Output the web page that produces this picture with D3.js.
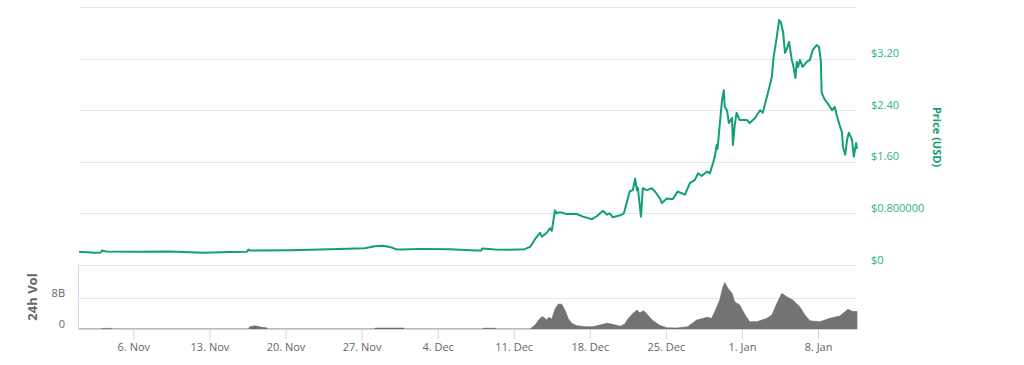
<!DOCTYPE html>
<html>
<head>
<meta charset="utf-8">
<script src="https://cdn.jsdelivr.net/npm/d3@7"></script>
<style>
html,body{margin:0;padding:0;background:#fff;}
svg{display:block;}
text{font-family:"Open Sans","DejaVu Sans",sans-serif;}
</style>
</head>
<body>
<svg id="chart" width="1024" height="365"></svg>
<script>
// ---- data ----
const priceTimes = [
"2017-11-01 00:00","2017-11-02 11:00","2017-11-03 00:00","2017-11-03 03:00","2017-11-03 12:00","2017-11-06 14:00",
"2017-11-09 09:00","2017-11-12 10:00","2017-11-14 22:00","2017-11-16 11:00","2017-11-16 14:00","2017-11-16 17:00",
"2017-11-20 10:00","2017-11-24 02:00","2017-11-27 07:00","2017-11-28 05:00","2017-11-29 00:00","2017-11-29 19:00",
"2017-11-30 04:00","2017-11-30 19:00","2017-12-02 09:00","2017-12-05 03:00","2017-12-07 12:00","2017-12-08 00:00",
"2017-12-08 02:00","2017-12-09 07:00","2017-12-10 16:00","2017-12-12 00:00","2017-12-12 12:00","2017-12-12 23:00",
"2017-12-13 10:00","2017-12-13 14:00","2017-12-14 01:00","2017-12-14 08:00","2017-12-14 12:00","2017-12-14 19:00",
"2017-12-14 23:00","2017-12-15 06:00","2017-12-15 21:00","2017-12-16 19:00","2017-12-17 09:00","2017-12-18 05:00",
"2017-12-18 16:00","2017-12-19 05:00","2017-12-19 14:00","2017-12-19 20:00","2017-12-20 03:00","2017-12-20 19:00",
"2017-12-21 03:00","2017-12-21 10:00","2017-12-21 16:00","2017-12-21 23:00","2017-12-22 04:00","2017-12-22 08:00",
"2017-12-22 10:00","2017-12-22 17:00","2017-12-22 21:00","2017-12-23 06:00","2017-12-23 17:00","2017-12-24 00:00",
"2017-12-24 11:00","2017-12-24 15:00","2017-12-25 02:00","2017-12-25 15:00","2017-12-26 02:00","2017-12-26 18:00",
"2017-12-27 05:00","2017-12-27 16:00","2017-12-27 23:00","2017-12-28 07:00","2017-12-28 19:00","2017-12-29 01:00",
"2017-12-29 08:00","2017-12-29 12:00","2017-12-29 16:00","2017-12-29 18:00","2017-12-30 04:00","2017-12-30 08:00",
"2017-12-30 10:00","2017-12-30 15:00","2017-12-30 19:00","2017-12-31 02:00","2017-12-31 04:00","2017-12-31 08:00",
"2017-12-31 12:00","2017-12-31 19:00","2018-01-01 11:00","2018-01-01 17:00","2018-01-02 05:00","2018-01-02 16:00",
"2018-01-02 22:00","2018-01-03 07:00","2018-01-03 14:00","2018-01-03 18:00","2018-01-03 22:00","2018-01-04 05:00",
"2018-01-04 10:00","2018-01-04 14:00","2018-01-04 19:00","2018-01-04 23:00","2018-01-05 03:00","2018-01-05 08:00",
"2018-01-05 14:00","2018-01-05 17:00","2018-01-05 22:00","2018-01-06 01:00","2018-01-06 04:00","2018-01-06 08:00",
"2018-01-06 14:00","2018-01-06 23:00","2018-01-07 06:00","2018-01-07 12:00","2018-01-07 21:00","2018-01-08 02:00",
"2018-01-08 06:00","2018-01-08 08:00","2018-01-08 15:00","2018-01-08 21:00","2018-01-09 07:00","2018-01-09 13:00",
"2018-01-09 20:00","2018-01-10 05:00","2018-01-10 07:00","2018-01-10 12:00","2018-01-10 16:00","2018-01-10 20:00",
"2018-01-11 03:00","2018-01-11 07:00","2018-01-11 12:00","2018-01-11 14:00"
];
const priceValues = [
0.206,0.19,0.195,0.225,0.21,0.205,
0.21,0.19,0.20,0.205,0.24,0.225,
0.23,0.245,0.26,0.29,0.30,0.27,
0.245,0.24,0.25,0.245,0.225,0.225,
0.255,0.24,0.235,0.245,0.28,0.40,
0.50,0.44,0.50,0.57,0.53,0.85,
0.80,0.82,0.79,0.79,0.75,0.71,
0.76,0.84,0.78,0.80,0.74,0.77,
0.80,0.98,1.14,1.16,1.34,1.16,
1.20,0.75,1.19,1.16,1.19,1.14,
1.03,0.96,1.03,1.02,1.14,1.09,
1.27,1.32,1.42,1.38,1.45,1.42,
1.58,1.68,1.86,1.80,2.56,2.71,
2.45,2.40,2.20,2.28,1.86,2.17,
2.36,2.25,2.25,2.20,2.28,2.40,
2.36,2.61,2.80,2.92,3.23,3.54,
3.80,3.76,3.60,3.29,3.35,3.46,
3.18,3.10,2.90,3.15,3.07,3.18,
3.07,3.15,3.18,3.33,3.41,3.38,
3.18,2.67,2.56,2.51,2.40,2.45,
2.25,2.05,1.83,1.71,1.94,2.05,
1.94,1.68,1.89,1.80
];
const volumeTimes = [
"2017-11-01 00:00","2017-11-03 00:00","2017-11-03 02:00","2017-11-04 01:00","2017-11-04 02:00",
"2017-11-16 15:00","2017-11-16 16:00","2017-11-17 05:00","2017-11-17 19:00","2017-11-18 07:00","2017-11-18 08:00",
"2017-11-28 05:00","2017-11-28 06:00","2017-11-30 21:00","2017-11-30 22:00",
"2017-12-08 04:00","2017-12-08 05:00","2017-12-09 07:00","2017-12-09 08:00",
"2017-12-12 12:00","2017-12-12 23:00","2017-12-13 10:00","2017-12-13 16:00","2017-12-14 01:00","2017-12-14 05:00",
"2017-12-14 12:00","2017-12-14 19:00","2017-12-15 02:00","2017-12-15 10:00","2017-12-15 17:00","2017-12-16 00:00",
"2017-12-16 08:00","2017-12-16 19:00","2017-12-17 17:00","2017-12-18 07:00","2017-12-18 22:00","2017-12-19 14:00",
"2017-12-20 03:00","2017-12-20 19:00","2017-12-21 05:00","2017-12-21 12:00","2017-12-21 23:00","2017-12-22 08:00",
"2017-12-22 14:00","2017-12-22 23:00","2017-12-23 08:00","2017-12-23 19:00","2017-12-24 11:00","2017-12-25 02:00",
"2017-12-26 00:00","2017-12-27 00:00","2017-12-27 20:00","2017-12-28 19:00","2017-12-29 05:00","2017-12-29 12:00",
"2017-12-29 23:00","2017-12-30 05:00","2017-12-30 10:00","2017-12-30 17:00","2017-12-31 02:00","2017-12-31 08:00",
"2017-12-31 19:00","2018-01-01 07:00","2018-01-01 17:00","2018-01-02 09:00","2018-01-03 07:00","2018-01-03 18:00",
"2018-01-04 05:00","2018-01-04 16:00","2018-01-05 03:00","2018-01-05 16:00","2018-01-06 08:00","2018-01-06 19:00",
"2018-01-07 06:00","2018-01-08 04:00","2018-01-09 02:00","2018-01-10 00:00","2018-01-10 18:00","2018-01-11 05:00",
"2018-01-11 14:00"
];
const volumeValues = [ // billions USD
0,0,0.15,0.15,0,
0,0.5,0.85,0.45,0.3,0,
0,0.25,0.25,0,
0,0.2,0.2,0,
0,1.0,2.75,3.2,2.3,3.0,
2.6,5.1,6.4,6.4,4.9,2.75,
1.5,0.85,0.6,0.6,1.0,1.5,
1.2,0.7,1.3,2.6,4.0,4.9,
4.2,4.7,3.6,2.2,0.9,0.35,
0.25,0.6,2.3,3.0,2.75,4.5,
7.5,10.5,12.0,10.5,9.2,7.0,
6.2,3.6,1.9,1.9,2.75,3.6,
6.6,9.2,8.3,7.5,5.7,3.6,
2.1,1.9,2.75,3.35,5.1,4.5,
4.5
];
const xTickDates = ["2017-11-06","2017-11-13","2017-11-20","2017-11-27","2017-12-04","2017-12-11","2017-12-18","2017-12-25","2018-01-01","2018-01-08"];
const priceTicks = [0, 0.8, 1.6, 2.4, 3.2];
const priceTickLabels = ["$0", "$0.800000", "$1.60", "$2.40", "$3.20"];
const priceGrid = [0, 0.8, 1.6, 2.4, 3.2, 4.0];
const volumeTicks = [0, 8];
const volumeTickLabels = ["0", "8B"];

// ---- chart ----
const parseT = d3.utcParse("%Y-%m-%d %H:%M");
const parseD = d3.utcParse("%Y-%m-%d");
const priceData = priceTimes.map((t, i) => ({t: parseT(t), v: priceValues[i]}));
const volData = volumeTimes.map((t, i) => ({t: parseT(t), v: volumeValues[i]}));

const svg = d3.select("#chart");
const GREEN = "#109f78";
const x = d3.scaleUtc()
  .domain([parseT("2017-11-01 00:00"), parseT("2018-01-11 14:00")])
  .range([79, 857]);
const yP = d3.scaleLinear().domain([0, 4.0]).range([265, 7]);
const yV = d3.scaleLinear().domain([0, 16.5]).range([329, 265]);

// price gridlines
svg.append("g").selectAll("line").data(priceGrid).join("line")
  .attr("x1", 79).attr("x2", 857)
  .attr("y1", d => Math.round(yP(d)) + 0.5).attr("y2", d => Math.round(yP(d)) + 0.5)
  .attr("stroke", "#e6e6e6").attr("stroke-width", 1);

// volume gridline
svg.append("g").selectAll("line").data(volumeTicks.filter(d => d > 0)).join("line")
  .attr("x1", 79).attr("x2", 857)
  .attr("y1", d => Math.round(yV(d)) + 0.5).attr("y2", d => Math.round(yV(d)) + 0.5)
  .attr("stroke", "#e6e6e6").attr("stroke-width", 1);

// volume area
const area = d3.area().x(d => x(d.t)).y0(yV(0)).y1(d => yV(d.v)).curve(d3.curveLinear);
svg.append("path").datum(volData).attr("d", area)
  .attr("fill", "#737373").attr("stroke", "#606060").attr("stroke-width", 0.5);

// price line
const line = d3.line().x(d => x(d.t)).y(d => yP(d.v)).curve(d3.curveLinear);
svg.append("path").datum(priceData).attr("d", line)
  .attr("fill", "none").attr("stroke", GREEN).attr("stroke-width", 2)
  .attr("stroke-linejoin", "round");

// price axis labels (right)
svg.append("g").selectAll("text").data(priceTicks).join("text")
  .attr("x", 871).attr("y", d => yP(d) - 1.5)
  .attr("fill", "#2fb085").attr("font-size", 11)
  .text((d, i) => priceTickLabels[i]);
svg.append("text")
  .attr("transform", "translate(933,137) rotate(90)")
  .attr("text-anchor", "middle")
  .attr("fill", GREEN).attr("font-size", 11).attr("font-weight", "bold")
  .text("Price (USD)");

// volume axis labels (left)
svg.append("g").selectAll("text").data(volumeTicks).join("text")
  .attr("x", 65).attr("y", d => yV(d) - 1)
  .attr("text-anchor", "end")
  .attr("fill", "#666666").attr("font-size", 11)
  .text((d, i) => volumeTickLabels[i]);
svg.append("text")
  .attr("transform", "translate(37,297) rotate(-90)")
  .attr("text-anchor", "middle")
  .attr("fill", "#666666").attr("font-size", 13).attr("font-weight", "bold")
  .text("24h Vol");

// volume left axis line
svg.append("line").attr("x1", 78.5).attr("x2", 78.5).attr("y1", 265).attr("y2", 329)
  .attr("stroke", "#ccd6eb").attr("stroke-width", 1);

// x axis
const xAxis = d3.axisBottom(x)
  .tickValues(xTickDates.map(parseD))
  .tickFormat(d3.utcFormat("%-d. %b"))
  .tickSizeOuter(0).tickSizeInner(10).tickPadding(4);
const gx = svg.append("g").attr("transform", "translate(0,329.5)").call(xAxis);
gx.select(".domain").attr("stroke", "#ccd6eb").attr("d", "M79,0H857");
gx.selectAll(".tick line").attr("stroke", "#ccd6eb");
gx.selectAll(".tick text").attr("fill", "#666666").attr("font-size", 11)
  .attr("font-family", "'Open Sans','DejaVu Sans',sans-serif");
</script>
</body>
</html>
